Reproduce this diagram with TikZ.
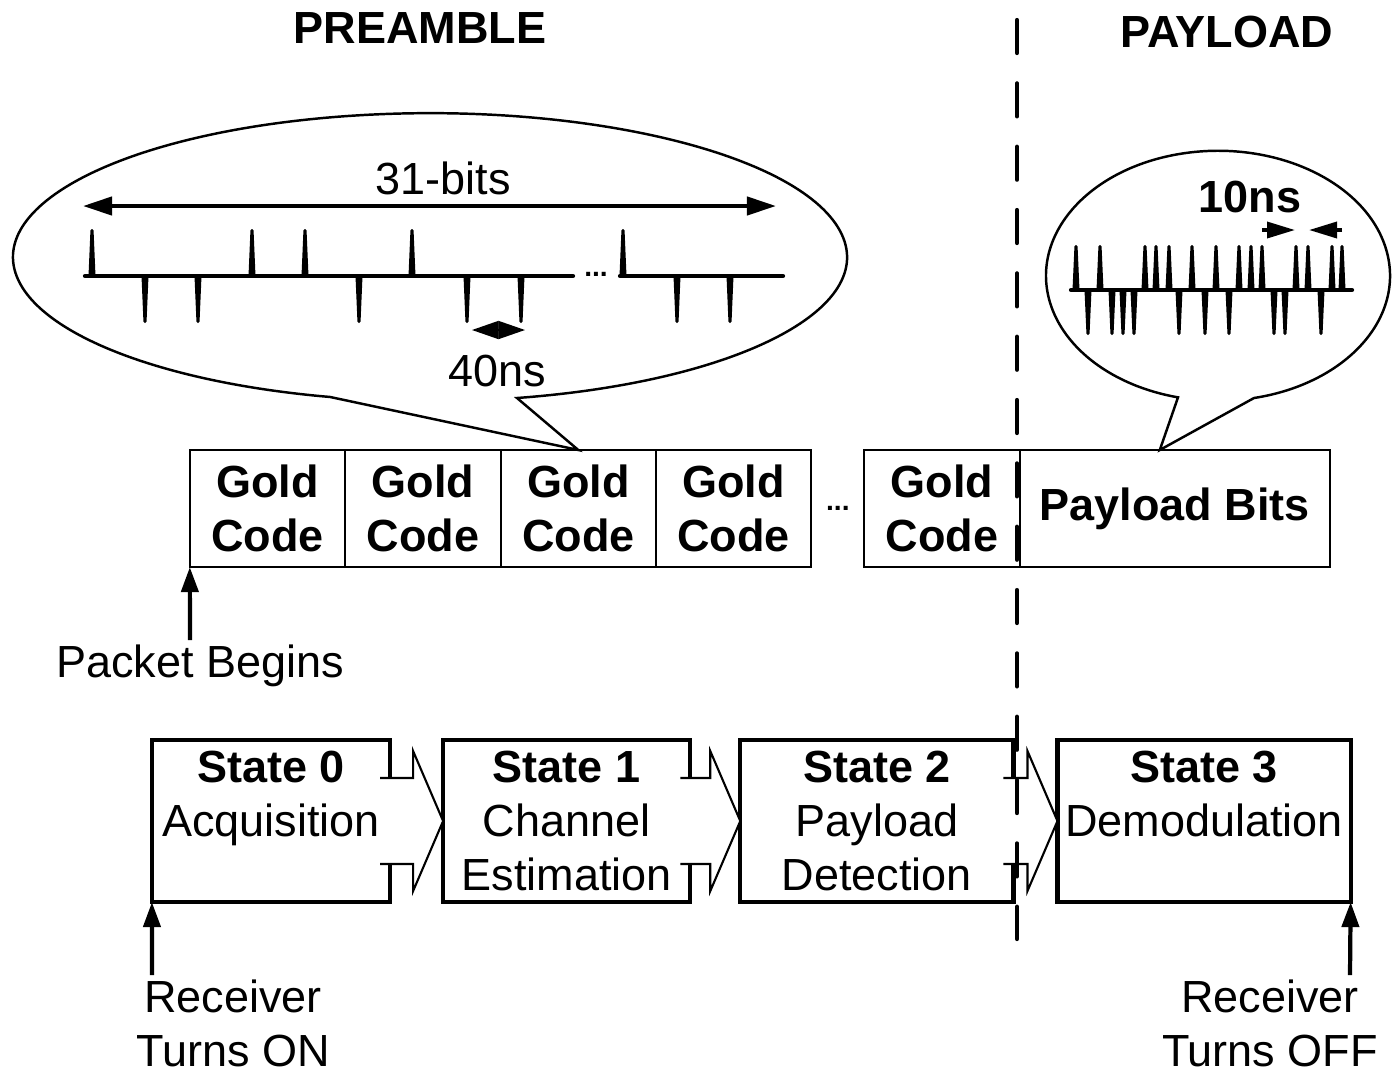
\documentclass[tikz,border=0pt]{standalone}
\usepackage{fontspec}
\setmainfont{Liberation Sans}
\usetikzlibrary{arrows.meta,calc,positioning}

\begin{document}
\begin{tikzpicture}[x=0.01cm,y=-0.01cm,
		every node/.style={font=\fontsize{12.8}{15.3}\selectfont,align=center,inner sep=0pt,outer sep=0pt},
		gold/.style={draw,line width=0.6pt,minimum width=1.553cm,minimum height=1.17cm,font=\fontsize{12.8}{15.3}\selectfont\bfseries},
		state/.style={draw,line width=1.2pt,minimum height=1.62cm},
		blockarrow/.style={draw,fill=white,line width=0.6pt},
		upward/.style={-{Triangle[length=2.5mm,width=1.7mm]},line width=1.2pt},
		spike/.style={fill=black,rounded corners=0.4pt},
		dots/.style={font=\fontsize{8}{8}\selectfont\bfseries}]
	\useasboundingbox (0,0) rectangle (1397,1072);
	\node (pre) at (420,28) {\bfseries PREAMBLE};
	\node (pay) at (1227,32) {\bfseries PAYLOAD};
	
	\node[gold] (g1) at (267.5,508.5) {Gold\\Code};
	\node[gold,right=0pt of g1] (g2) {Gold\\Code};
	\node[gold,right=0pt of g2] (g3) {Gold\\Code};
	\node[gold,right=0pt of g3] (g4) {Gold\\Code};
	\node[gold,right=0.53cm of g4] (g5) {Gold\\Code};
	\node[gold,right=0pt of g5,minimum width=3.1cm] (pb) {Payload Bits};
	\node[dots] (gdots) at ($(g4.east)!0.5!(g5.west)$) {...};
	
	\draw[line width=0.7pt] (517,398) arc[start angle=77.96,end angle=-256.13,x radius=417,y radius=144] -- (g3.north) -- cycle;
	\draw[line width=0.7pt] (1254,398) arc[start angle=77.92,end angle=-256.55,x radius=172,y radius=125] -- ($(pb.north west)+(140,0)$) -- cycle;
	
	\coordinate (bl) at (83,206);
	\coordinate (br) at (776,206);
	\draw[{Triangle[length=2.9mm,width=1.8mm]}-{Triangle[length=2.9mm,width=1.8mm]},line width=1.2pt] (bl) -- (br);
	\node (nbits) at (443,178) {31-bits};
	\draw[line width=1.2pt,line cap=round] (85,276) -- (573,276) (620,276) -- (783,276);
	\foreach \p in {92,252,305,412,623}
		\fill[spike] (\p-3.5,276) -- (\p-1.5,229) -- (\p+1.5,229) -- (\p+3.5,276) -- cycle;
	\foreach \p in {145,198,359,467,521,677,730}
		\fill[spike] (\p-3.5,276) -- (\p-1.5,323) -- (\p+1.5,323) -- (\p+3.5,276) -- cycle;
	\node[dots] (tdots) at (596,274) {...};
	\coordinate (cl) at (472,330);
	\coordinate (cr) at (525,330);
	\draw[{Triangle[length=2.65mm,width=1.8mm]}-{Triangle[length=2.65mm,width=1.8mm]},line width=0.4pt] (cl) -- (cr);
	\node (nchip) at (497,371) {40ns};
	
	\draw[line width=1.2pt,line cap=round] (1071,290) -- (1352,290);
	\foreach \p in {1076,1100,1145,1156,1169,1192,1216,1239,1251,1262,1296,1308,1332,1342}
		\fill[spike] (\p-3.5,290) -- (\p-1.5,245) -- (\p+1.5,245) -- (\p+3.5,290) -- cycle;
	\foreach \p in {1088,1112,1123,1134,1179,1205,1229,1274,1285,1321}
		\fill[spike] (\p-3.5,290) -- (\p-1.5,335) -- (\p+1.5,335) -- (\p+3.5,290) -- cycle;
	\coordinate (ql) at (1262,230);
	\coordinate (qr) at (1342,230);
	\draw[-{Triangle[length=2.8mm,width=1.6mm]},line width=1pt] (ql) -- ++(33,0);
	\draw[-{Triangle[length=2.8mm,width=1.6mm]},line width=1pt] (qr) -- ++(-33,0);
	\node (nbit) at (1250,197) {\bfseries 10ns};
	
	\node[state,minimum width=2.38cm] (s0) at (271,821) {\textbf{State 0}\\Acquisition\\~};
	\node[state,minimum width=2.47cm,right=0.53cm of s0] (s1) {\textbf{State 1}\\Channel\\Estimation};
	\node[state,minimum width=2.73cm,right=0.5cm of s1] (s2) {\textbf{State 2}\\Payload\\Detection};
	\node[state,minimum width=2.93cm,right=0.44cm of s2] (s3) {\textbf{State 3}\\Demodulation\\~};
	\foreach \a/\b in {s0/s1,s1/s2,s2/s3}
		\filldraw[blockarrow] ($(\a.east)+(-10,-43)$) -- ($(\b.west)+(-30,-43)$) -- ($(\b.west)+(-30,-70)$) -- (\b.west)
			-- ($(\b.west)+(-30,70)$) -- ($(\b.west)+(-30,43)$) -- ($(\a.east)+(-10,43)$);
	
	\draw[line width=1.2pt,line cap=round,dash pattern=on 3.3mm off 3.03mm] (1017,20) -- (1017,939);
	
	\coordinate (pk) at (190,640);
	\draw[upward] (pk) -- (g1.south west);
	\node (npk) at (200,666) {Packet Begins};
	\coordinate (on) at (152,975);
	\coordinate (off) at (1350,975);
	\draw[upward] (on) -- (s0.south west);
	\draw[upward] (off) -- (s3.south east);
	\node (ron) at (233,1023) {Receiver\\Turns ON};
	\node (roff) at (1270,1023) {Receiver\\Turns OFF};
\end{tikzpicture}
\end{document}
